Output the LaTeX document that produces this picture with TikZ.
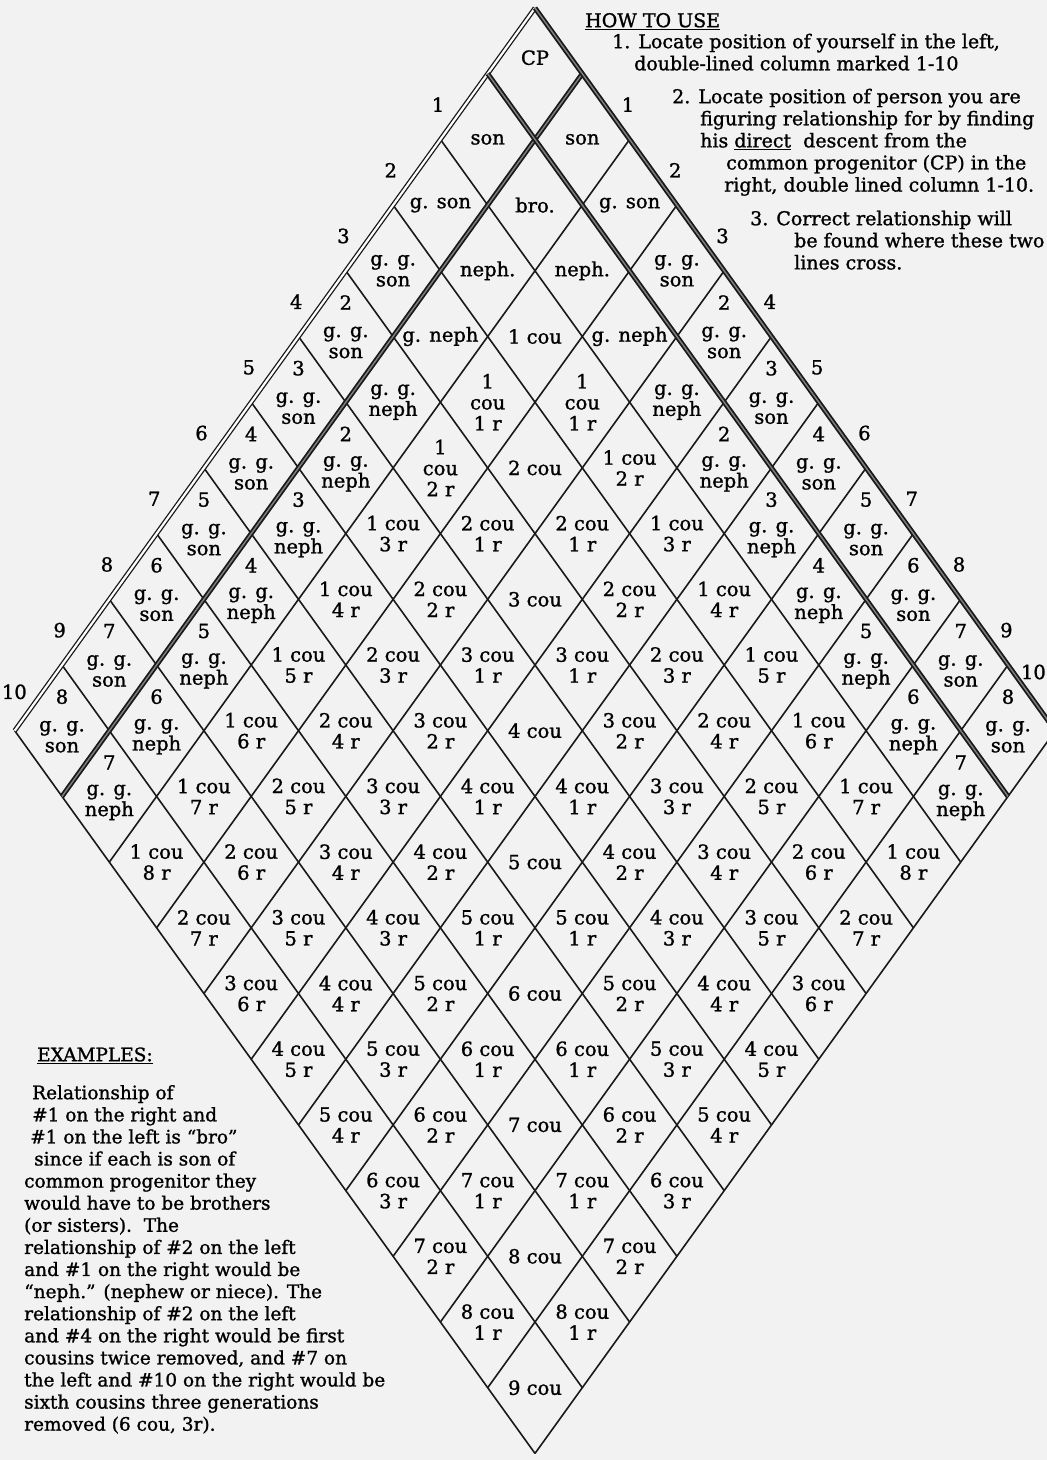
\documentclass[tikz,border=0pt]{standalone}
\usepackage{fontspec}
\setmainfont{DejaVu Serif}[FakeBold=1.2]
\usetikzlibrary{calc}

\newcommand\cellfont{\fontsize{19.5}{21}\selectfont}
\newcommand\howfont{\fontsize{19}{22.1}\selectfont}
\newcommand\notefont{\fontsize{18.5}{22.1}\selectfont}

% text of the cell where left line #1 meets right line #2
\newcommand\kinship[2]{%
  \def\kinnum{}\def\kinshift{0pt}%
  \pgfmathtruncatemacro\kinmin{min(#1,#2)}%
  \pgfmathtruncatemacro\kinrem{abs(#1-#2)}%
  \pgfmathtruncatemacro\kincou{\kinmin-1}%
  \ifcase\kinmin
    \ifcase\kinrem \def\kintext{CP}\def\kinshift{16pt}\or \def\kintext{son}\or \def\kintext{g. son}\or \def\kintext{g. g.\\son}\else
      \def\kintext{g. g.\\son}\pgfmathtruncatemacro\kinnum{\kinrem-2}\def\kinshift{-6pt}\fi
  \or
    \ifcase\kinrem \def\kintext{bro.}\or \def\kintext{neph.}\or \def\kintext{g. neph}\or \def\kintext{g. g.\\neph}\else
      \def\kintext{g. g.\\neph}\pgfmathtruncatemacro\kinnum{\kinrem-2}\def\kinshift{-6pt}\fi
  \else
    \ifnum\kinrem=0 \def\kintext{\kincou\ cou}\else \def\kintext{\kincou\ cou\\\kinrem\ r}\fi
  \fi
  \ifnum\kinmin=2
    \ifnum\kinrem=1 \def\kintext{1\\cou\\1 r}\fi
    \ifnum#1=4 \ifnum#2=2 \def\kintext{1\\cou\\2 r}\fi\fi
  \fi}

\begin{document}
\begin{tikzpicture}[
    x=1pt, y=-1pt,
    every node/.style={inner sep=0pt},
    cell/.style={align=center, font=\cellfont},
    tag/.style={font=\cellfont},
    howto/.style={align=left, anchor=north west, font=\howfont},
    notes/.style={align=left, anchor=north west, font=\notefont},
    grid line/.style={line width=1.6pt, black!90},
    open double/.style={double, double distance=2.2pt, line width=1.3pt, black!90},
    dark double/.style={double=black!50, double distance=1.4pt, line width=1.8pt, black!90}
]
\useasboundingbox (0,0) rectangle (1047,1460);
\fill[black!5] (0,0) rectangle (1047,1460);

% the chart: x runs along the right column, y along the left column
\begin{scope}[shift={(535,8)}, x={(47.3pt,-65.7pt)}, y={(-47.3pt,-65.7pt)}]
\coordinate (top) at (0,0);
\coordinate (left) at (0,11);
\coordinate (right) at (11,0);
\coordinate (bottom) at (11,11);

\foreach \k in {0,...,11}{
    \draw[grid line] (\k,0) -- (\k,11);
    \draw[grid line] (0,\k) -- (11,\k);
}
\draw[open double] (top) -- (left);
\draw[dark double] (1,0) -- (1,11);
\draw[dark double] (top) -- (right);
\draw[dark double] (0,1) -- (11,1);

\foreach \i in {0,...,10}{
    \foreach \j in {0,...,10}{
        \kinship{\i}{\j}
        \node[cell, yshift=\kinshift] (c-\i-\j) at (\j+.5,\i+.5) {\kintext};
        \ifx\kinnum\empty\else
            \node[tag, yshift=34pt] (n-\i-\j) at (\j+.5,\i+.5) {\kinnum};
        \fi
    }
}

% numbers of the two columns
\foreach \k in {1,...,9}{
    \node[tag, xshift=-26pt, yshift=2pt] (l-\k) at (0,\k+.5) {\k};
    \node[tag, xshift=22pt, yshift=2pt] (r-\k) at (\k+.5,0) {\k};
}
\node[tag, xshift=-24pt, yshift=6pt] (l-10) at (0,10.5) {10};
\end{scope}
\node[tag, anchor=east] (r-10) at (1046,672) {10};

% how to use
\node[howto] (howto) at (585,11.5) {\strut\underline{HOW TO USE}};
\node[howto] (step-1) at (612,32.5) {\strut 1. Locate position of yourself in the left,\\
    \hspace*{22pt}double-lined column marked 1-10};
\node[howto] (step-2) at (672,87.5) {\strut 2. Locate position of person you are\\
    \hspace*{28pt}figuring relationship for by finding\\
    \hspace*{28pt}his \underline{direct}\ \ descent from the\\
    \hspace*{54pt}common progenitor (CP) in the\\
    \hspace*{52pt}right, double lined column 1-10.};
\node[howto] (step-3) at (750,209.5) {\strut 3. Correct relationship will\\
    \hspace*{44pt}be found where these two\\
    \hspace*{44pt}lines cross.};

% examples
\node[notes] (examples) at (37,1045.5) {\strut\underline{EXAMPLES:}};
\node[notes] (example-text) at (24,1083.5) {\strut\hspace*{8pt}Relationship of\\
    \hspace*{8pt}\#1 on the right and\\
    \hspace*{6pt}\#1 on the left is ``bro''\\
    \hspace*{10pt}since if each is son of\\
    common progenitor they\\
    would have to be brothers\\
    (or sisters).\ \ The\\
    relationship of \#2 on the left\\
    and \#1 on the right would be\\
    ``neph.'' (nephew or niece). The\\
    relationship of \#2 on the left\\
    and \#4 on the right would be first\\
    cousins twice removed, and \#7 on\\
    the left and \#10 on the right would be\\
    sixth cousins three generations\\
    removed (6 cou, 3r).};
\end{tikzpicture}
\end{document}
